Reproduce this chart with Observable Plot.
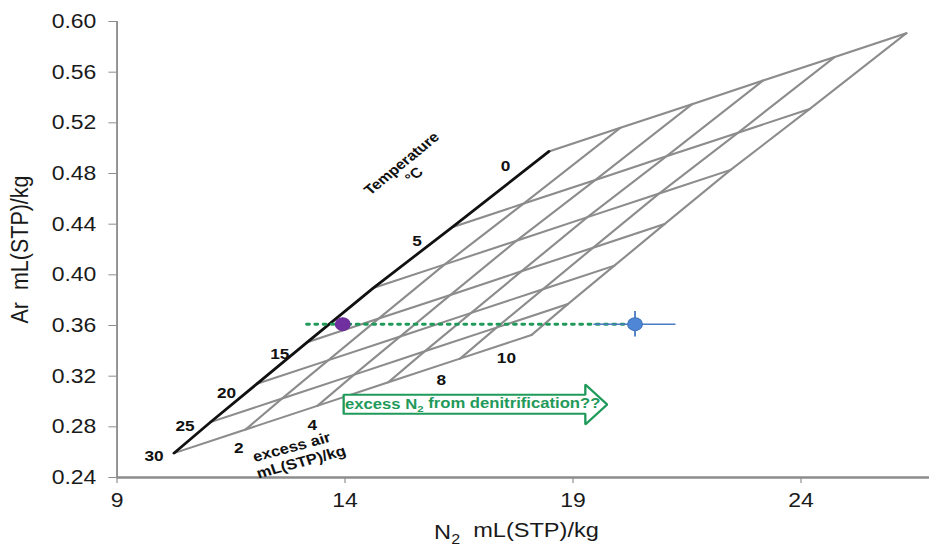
<!DOCTYPE html>
<html>
<head>
<meta charset="utf-8">
<script src="https://cdn.jsdelivr.net/npm/d3@7"></script>
<script src="https://cdn.jsdelivr.net/npm/@observablehq/plot@0.6"></script>
<style>
  html, body { margin: 0; padding: 0; background: #fff; }
  #chart svg { display: block; }
</style>
</head>
<body>
<div id="chart"></div>
<script>
// ---- data ----
const temps   = [0, 5, 10, 15, 20, 25, 30];                 // °C
const eqN2    = [18.47, 16.35, 14.62, 13.17, 12.07, 11.05, 10.25]; // N2 at zero excess air
const eqAr    = [0.4974, 0.4376, 0.3896, 0.3468, 0.3140, 0.2837, 0.2592];
const excessAir = [0, 2, 4, 6, 8, 10];                      // mL(STP)/kg
const excessN2  = [0, 1.57, 3.14, 4.70, 6.27, 7.84];
const excessAr  = [0, 0.0187, 0.0373, 0.0560, 0.0746, 0.0933];

const sampleN2    = [13.95, 20.36];
const sampleAr    = [0.361, 0.361];
const sampleN2Err = [0, 0.9];
const sampleArErr = [0, 0.010];
const sampleColor = ["#7030a0", "#4f86d6"];

const dottedN2 = [13.16, 20.36];
const dottedAr = [0.361, 0.361];

const arrowN2 = [13.97, 19.27, 19.27, 19.75, 19.27, 19.27, 13.97, 13.97];
const arrowAr = [0.2903, 0.2903, 0.2818, 0.2976, 0.3134, 0.3053, 0.3053, 0.2903];
const arrowText = "excess N₂ from denitrification??";
const arrowTextN2 = 16.80, arrowTextAr = 0.2976;

const tempLabels   = ["0", "5", "15", "20", "25", "30"];
const tempLabelN2  = [17.52, 15.58, 12.57, 11.40, 10.49, 9.81];
const tempLabelAr  = [0.4855, 0.4265, 0.3377, 0.3066, 0.2805, 0.2566];
const airLabels    = ["2", "4", "8", "10"];
const airLabelN2   = [11.67, 13.28, 16.11, 17.54];
const airLabelAr   = [0.2634, 0.2811, 0.3166, 0.3342];

const xTicks = [9, 14, 19, 24];
const yTicks = [0.24, 0.28, 0.32, 0.36, 0.40, 0.44, 0.48, 0.52, 0.56, 0.60];
const xTitle = "N₂\u00a0 mL(STP)/kg";
const yTitle = "Ar\u00a0 mL(STP)/kg";

// ---- tables built from the arrays ----
const grid = [];
temps.forEach((T, i) => excessAir.forEach((ea, j) => {
  grid.push({T, ea, n2: eqN2[i] + excessN2[j], ar: eqAr[i] + excessAr[j]});
}));
const samples = sampleN2.map((v, i) => ({n2: v, ar: sampleAr[i], en2: sampleN2Err[i], ear: sampleArErr[i], color: sampleColor[i]}));
const errSamples = samples.filter(d => d.en2 > 0 || d.ear > 0);
const dotted = dottedN2.map((v, i) => ({n2: v, ar: dottedAr[i]}));
const arrow = arrowN2.map((v, i) => ({n2: v, ar: arrowAr[i]}));
const tLab = tempLabels.map((t, i) => ({t, n2: tempLabelN2[i], ar: tempLabelAr[i]}));
const aLab = airLabels.map((t, i) => ({t, n2: airLabelN2[i], ar: airLabelAr[i]}));

const STRETCH = 1.15;            // reference is horizontally stretched
const W = 929, H = 546;
const Wi = Math.round(W / STRETCH);
const GREEN = "#1f9a5a", GREY = "#8c8c8c";

const chart = Plot.plot({
  width: Wi, height: H,
  marginLeft: 101.3, marginRight: 0, marginTop: 21, marginBottom: 69,
  style: {fontFamily: "Liberation Sans, Arial, sans-serif", background: "white"},
  x: {domain: [9, 26.82]},
  y: {domain: [0.24, 0.60]},
  marks: [
    Plot.ruleX([9], {stroke: GREY, strokeWidth: 1.6}),
    Plot.ruleY([0.24], {stroke: GREY, strokeWidth: 2.4}),
    Plot.axisY({ticks: yTicks, tickFormat: d3.format(".2f"), tickSize: 7, tickPadding: 11,
      fontSize: 20, stroke: GREY, fill: "#1a1a1a", label: null}),
    Plot.axisX({ticks: xTicks, tickFormat: d => String(d), tickSize: 6, tickPadding: 9,
      fontSize: 20, stroke: GREY, fill: "#1a1a1a", label: null}),
    // grid: temperature lines and excess-air lines
    Plot.line(grid, {x: "n2", y: "ar", z: "T", stroke: GREY, strokeWidth: 2}),
    Plot.line(grid.filter(d => d.ea > 0), {x: "n2", y: "ar", z: "ea", stroke: GREY, strokeWidth: 2}),
    Plot.line(grid.filter(d => d.ea === 0), {x: "n2", y: "ar", stroke: "#111", strokeWidth: 2.6}),
    // arrow
    Plot.line(arrow, {x: "n2", y: "ar", stroke: GREEN, strokeWidth: 2, fill: "white", strokeLinejoin: "miter"}),
    Plot.text([arrowText], {x: () => arrowTextN2, y: () => arrowTextAr, text: d => d,
      fill: GREEN, fontWeight: "bold", fontSize: 14.5}),
    // dotted line
    Plot.line(dotted, {x: "n2", y: "ar", stroke: GREEN, strokeWidth: 2.8, strokeDasharray: "2.2,5"}),
    // error bars
    Plot.ruleY(errSamples, {y: "ar", x1: d => d.n2 - d.en2, x2: d => d.n2 + d.en2, stroke: "#4a7cc4", strokeWidth: 1.4}),
    Plot.ruleX(errSamples, {x: "n2", y1: d => d.ar - d.ear, y2: d => d.ar + d.ear, stroke: "#4a7cc4", strokeWidth: 1.6}),
    Plot.dot(samples, {x: "n2", y: "ar", r: 6.4, fill: "color", stroke: d => d.color === "#7030a0" ? "#6a2b98" : "#3d72bd", strokeWidth: 1}),
    // labels
    Plot.text(tLab, {x: "n2", y: "ar", text: "t", fontWeight: "bold", fontSize: 15, fill: "#111"}),
    Plot.text(aLab, {x: "n2", y: "ar", text: "t", fontWeight: "bold", fontSize: 15, fill: "#111"}),
    Plot.text(["Temperature\n°C"], {x: () => 15.37, y: () => 0.4835, text: d => d, rotate: -43.5,
      fontWeight: "bold", fontSize: 14, fill: "#111", lineHeight: 1.12}),
    Plot.text(["excess air"], {x: () => 12.83, y: () => 0.2639, text: d => d, rotate: -17,
      fontWeight: "bold", fontSize: 14.5, fill: "#111"}),
    Plot.text(["mL(STP)/kg"], {x: () => 13.04, y: () => 0.2521, text: d => d, rotate: -17,
      fontWeight: "bold", fontSize: 14.5, fill: "#111"}),
    // axis titles
    Plot.text([xTitle], {x: () => 17.76, frameAnchor: "bottom", dy: 55, text: d => d,
      textAnchor: "middle", lineAnchor: "middle", fontSize: 20.5, fill: "#1a1a1a"}),
    Plot.text([yTitle], {y: () => 0.42, frameAnchor: "left", dx: -84, rotate: -90, text: d => d,
      textAnchor: "middle", lineAnchor: "middle", fontSize: 21.5, fill: "#1a1a1a"})
  ]
});

// subscripts for N₂
d3.select(chart).selectAll("text").each(function() {
  const el = d3.select(this);
  const tspans = el.selectAll("tspan");
  const targets = tspans.empty() ? [this] : tspans.nodes();
  targets.forEach(node => {
    const s = node.textContent;
    const k = s.indexOf("₂");
    if (k < 0) return;
    const n = d3.select(node);
    n.text(null);
    n.append("tspan").text(s.slice(0, k));
    n.append("tspan").attr("font-size", "68%").attr("dy", "0.32em").text("2");
    n.append("tspan").attr("dy", "-0.32em").text(s.slice(k + 1));
  });
});

chart.setAttribute("width", W);
chart.setAttribute("height", H);
chart.setAttribute("viewBox", `0 0 ${Wi} ${H}`);
chart.setAttribute("preserveAspectRatio", "none");
chart.style.maxWidth = "none";
document.getElementById("chart").append(chart);
</script>
</body>
</html>
